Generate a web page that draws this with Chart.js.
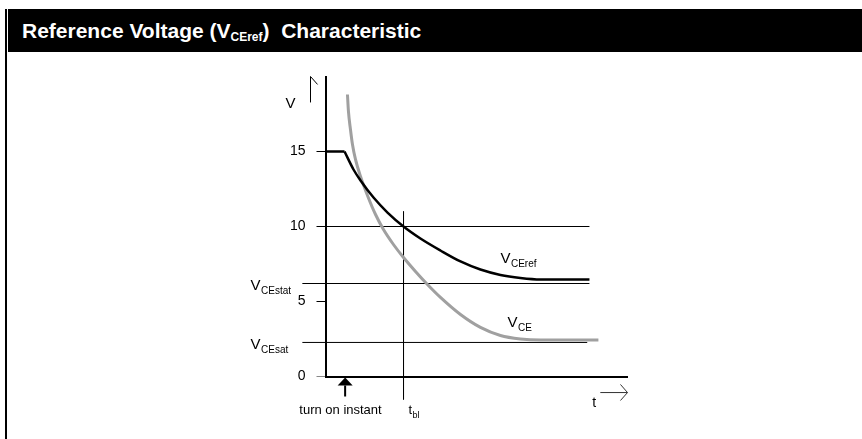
<!DOCTYPE html>
<html><head><meta charset="utf-8">
<script src="https://cdn.jsdelivr.net/npm/chart.js@4/dist/chart.umd.min.js"></script>
<style>
html,body{margin:0;padding:0;background:#fff;width:862px;height:439px;overflow:hidden;}
#wrap{position:relative;width:862px;height:439px;}
#c{position:absolute;left:0;top:0;}
#border{position:absolute;left:5px;top:9px;width:2px;height:430px;background:#000;}
#title{position:absolute;left:8px;top:9px;width:854px;height:43px;background:#000;color:#fff;font:bold 21px "Liberation Sans",Arial,sans-serif;line-height:43px;padding-left:14px;box-sizing:border-box;white-space:nowrap;overflow:hidden;}
#title sub{font-size:12px;vertical-align:-3px;line-height:0;}
</style></head>
<body><div id="wrap"><canvas id="c" width="862" height="439"></canvas><div id="border"></div><div id="title">Reference Voltage (V<sub>CEref</sub>)&nbsp; Characteristic</div></div>
<script>
// ---- data ----
const yTickValues = [0, 5, 10, 15];

const vceRef = [
  {x:0, y:15}, {x:1.89, y:15}, {x:2.78, y:13.8}, {x:3.48, y:13.07}, {x:4.77, y:11.93},
  {x:6.16, y:10.93}, {x:7.75, y:10.0}, {x:9.43, y:9.2}, {x:11.42, y:8.4}, {x:13.41, y:7.67},
  {x:15.39, y:7.13}, {x:17.38, y:6.77}, {x:19.36, y:6.57}, {x:21.35, y:6.47}, {x:26.22, y:6.47}
];

const vce = [
  {x:2.18, y:18.8}, {x:2.28, y:17.67}, {x:2.48, y:16.47}, {x:2.68, y:15.47}, {x:2.98, y:14.47},
  {x:3.48, y:13.33}, {x:4.17, y:12.07}, {x:4.97, y:10.8}, {x:5.76, y:9.8}, {x:6.75, y:8.8},
  {x:7.75, y:7.93}, {x:8.94, y:7.0}, {x:10.13, y:6.13}, {x:11.42, y:5.27}, {x:13.41, y:4.13},
  {x:15.39, y:3.27}, {x:17.38, y:2.73}, {x:19.36, y:2.5}, {x:21.35, y:2.43}, {x:27.11, y:2.43}
];

const level10 = [{x:0, y:10}, {x:26.22, y:10}];
const vceStatLevel = [{x:-2.3, y:6.2}, {x:26.22, y:6.2}];
const vceSatLevel = [{x:-2.3, y:2.27}, {x:26.0, y:2.27}];
const tblLine = [{x:7.75, y:11.0}, {x:7.75, y:-1.53}];

const turnOnAt = 1.95;
const turnOnArrowY = {tip:-0.07, base:-0.6, bottom:-1.33};
const turnOnShaft = [{x:turnOnAt, y:turnOnArrowY.base}, {x:turnOnAt, y:turnOnArrowY.bottom}];

const vAxisArrow = [{x:-1.49, y:18.27}, {x:-1.49, y:20}];
const vAxisArrowHead = [{x:-2.21, y:19.47}, {x:-1.49, y:20}, {x:-0.79, y:19.47}];
const tAxisArrow = [{x:27.3, y:-1.07}, {x:30, y:-1.07}];
const tAxisArrowHead = [{x:29.3, y:-0.53}, {x:30, y:-1.07}, {x:29.3, y:-1.6}];

const textLabels = [
  {text:'V', sub:'', x:-3.97, y:17.93, size:15},
  {text:'V', sub:'CEstat', x:-7.45, y:5.8, size:15},
  {text:'V', sub:'CEsat', x:-7.45, y:1.85, size:15},
  {text:'V', sub:'CEref', x:17.38, y:7.6, size:15},
  {text:'V', sub:'CE', x:18.07, y:3.33, size:15},
  {text:'t', sub:'', x:26.5, y:-2.0, size:14},
  {text:'t', sub:'bl', x:8.24, y:-2.47, size:13, subSize:9},
  {text:'turn on instant', sub:'', x:1.49, y:-2.47, size:13, align:'center'}
];

// ---- drawing ----
const FONT = '"Liberation Sans", Arial, sans-serif';

const annotPlugin = {
  id: 'annot',
  afterDatasetsDraw(chart) {
    const {ctx, scales:{x, y}} = chart;
    ctx.save();
    ctx.fillStyle = '#000';
    const ax = x.getPixelForValue(turnOnAt);
    const tip = y.getPixelForValue(turnOnArrowY.tip);
    const base = y.getPixelForValue(turnOnArrowY.base);
    ctx.beginPath();
    ctx.moveTo(ax, tip);
    ctx.lineTo(ax - 7.5, base);
    ctx.lineTo(ax + 7.5, base);
    ctx.closePath();
    ctx.fill();

    ctx.textBaseline = 'alphabetic';
    ctx.textAlign = 'left';
    for (const l of textLabels) {
      const mainFont = `${l.size}px ${FONT}`;
      const subFont = `${l.subSize || 10}px ${FONT}`;
      ctx.font = mainFont;
      const w = ctx.measureText(l.text).width;
      let sw = 0;
      if (l.sub) { ctx.font = subFont; sw = ctx.measureText(l.sub).width; }
      let px = x.getPixelForValue(l.x);
      const py = y.getPixelForValue(l.y);
      if (l.align === 'center') px -= (w + sw) / 2;
      ctx.font = mainFont;
      ctx.fillText(l.text, px, py);
      if (l.sub) { ctx.font = subFont; ctx.fillText(l.sub, px + w + 0.5, py + 4); }
    }
    ctx.restore();
  }
};

const thin = {borderColor:'#000', borderWidth:1, pointRadius:0, clip:false, fill:false, tension:0};

new Chart(document.getElementById('c'), {
  type: 'line',
  data: {datasets: [
    {data: vceRef.slice(0, 2), borderColor:'#000', borderWidth:2.5, pointRadius:0, clip:false, fill:false, tension:0},
    {data: vceRef.slice(1), borderColor:'#000', borderWidth:2.5, pointRadius:0, clip:false, fill:false, cubicInterpolationMode:'monotone'},
    {data: vce, borderColor:'#a0a0a0', borderWidth:3, pointRadius:0, clip:false, fill:false, cubicInterpolationMode:'monotone'},
    {...thin, data: level10},
    {...thin, data: vceStatLevel},
    {...thin, data: vceSatLevel},
    {...thin, data: tblLine},
    {...thin, data: turnOnShaft, borderWidth:2},
    {...thin, data: vAxisArrow},
    {...thin, data: vAxisArrowHead},
    {...thin, data: tAxisArrow, borderColor:'#333'},
    {...thin, data: tAxisArrowHead, borderColor:'#333'}
  ]},
  options: {
    responsive: false,
    animation: false,
    devicePixelRatio: 1,
    layout: {padding: {left:0, top:76.5, right:234.5, bottom:0}},
    plugins: {legend: {display:false}, tooltip: {enabled:false}},
    scales: {
      x: {
        type: 'linear', min: 0, max: 30,
        afterFit(s) { s.height = 62.5; },
        ticks: {display: false},
        grid: {display: false, drawTicks: false},
        border: {display: true, color: '#000', width: 2}
      },
      y: {
        type: 'linear', min: 0, max: 20,
        afterFit(s) { s.width = 325.5; },
        afterBuildTicks(s) { s.ticks = yTickValues.map(v => ({value: v})); },
        ticks: {color: '#000', font: {family: FONT, size: 14}, padding: 11},
        grid: {drawOnChartArea: false, tickLength: 9, lineWidth: 1,
               color: c => (c.tick && c.tick.value === 0) ? '#888' : '#000'},
        border: {display: true, color: '#000', width: 2}
      }
    }
  },
  plugins: [annotPlugin]
});
</script>
</body></html>
